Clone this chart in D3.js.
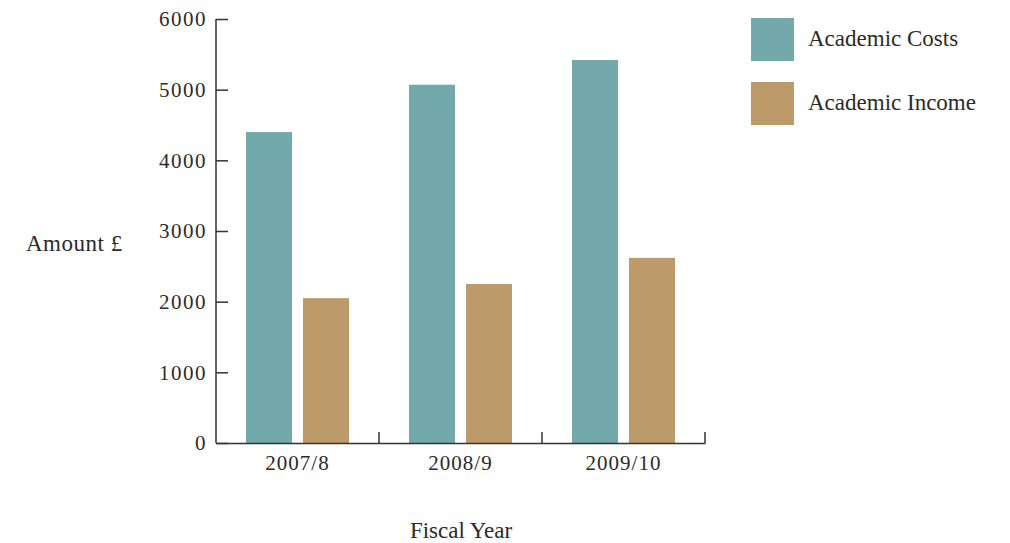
<!DOCTYPE html>
<html>
<head>
<meta charset="utf-8">
<script src="https://cdn.jsdelivr.net/npm/d3@7"></script>
<style>
  html, body { margin: 0; padding: 0; background: #fff; }
  svg { display: block; }
  text { font-family: "Liberation Serif", "DejaVu Serif", serif; fill: #2b2b2b; }
</style>
</head>
<body>
<svg id="chart" width="1010" height="543"></svg>
<script>
// Fiscal years and the two series plotted for each
const years = ["2007/8", "2008/9", "2009/10"];
const seriesNames = ["Academic Costs", "Academic Income"];
const academicCosts = [4400, 5070, 5420];
const academicIncome = [2050, 2250, 2620];
const yTicks = [0, 1000, 2000, 3000, 4000, 5000, 6000];
const colors = ["#73a9aa", "#bc9a69"];

const svg = d3.select("#chart");
const plot = { left: 216, right: 705, top: 19, bottom: 443 };

const x0 = d3.scaleBand().domain(years).range([plot.left, plot.right]).paddingInner(0).paddingOuter(0);
const x1 = d3.scaleBand().domain(seriesNames).range([30, x0.bandwidth() - 30]).paddingInner(11 / 57).paddingOuter(0);
const y = d3.scaleLinear().domain([0, 6000]).range([plot.bottom, plot.top]);

const rows = years.map((yr, i) => ({ year: yr, values: [academicCosts[i], academicIncome[i]] }));

// Bars
const groups = svg.append("g").selectAll("g").data(rows).join("g")
  .attr("transform", d => `translate(${x0(d.year)},0)`);
groups.selectAll("rect")
  .data(d => d.values.map((v, k) => ({ name: seriesNames[k], value: v, k })))
  .join("rect")
  .attr("x", d => x1(d.name))
  .attr("width", x1.bandwidth())
  .attr("y", d => y(d.value))
  .attr("height", d => y(0) - y(d.value))
  .attr("fill", d => colors[d.k]);

// Y axis: ticks pointing into the plot
const yAxis = d3.axisRight(y).tickValues(yTicks).tickSize(12).tickFormat(d3.format("d"));
const gy = svg.append("g").attr("transform", `translate(${plot.left},0)`).call(yAxis);
gy.select(".domain").attr("stroke", "#333").attr("stroke-width", 1.5).attr("d", `M0,${plot.top}V${plot.bottom}`);
gy.selectAll(".tick line").attr("stroke", "#333").attr("stroke-width", 1.5);
gy.selectAll(".tick text")
  .attr("x", -9).attr("dy", "0.32em")
  .attr("text-anchor", "end")
  .style("font-size", "21px").style("letter-spacing", "1.5px")
  .style("font-family", "'Liberation Serif', serif").attr("fill", "#2b2b2b");

// X axis: ticks at band edges pointing up
const xAxis = d3.axisBottom(x0).tickSize(0).tickSizeOuter(0);
const gx = svg.append("g").attr("transform", `translate(0,${plot.bottom})`).call(xAxis);
gx.select(".domain").attr("stroke", "#333").attr("stroke-width", 1.5);
gx.selectAll(".tick text")
  .attr("y", 27).attr("dy", 0)
  .style("font-size", "21px").style("letter-spacing", "1px")
  .style("font-family", "'Liberation Serif', serif").attr("fill", "#2b2b2b");
const edges = years.map(yr => x0(yr) + x0.bandwidth());
gx.selectAll(".edge").data(edges).join("line").attr("class", "edge")
  .attr("x1", d => d).attr("x2", d => d).attr("y1", 0).attr("y2", -11)
  .attr("stroke", "#333").attr("stroke-width", 1.5);

// Axis titles
svg.append("text").attr("x", 26).attr("y", 251).style("font-size", "23px").style("letter-spacing", "0.5px").text("Amount £");
svg.append("text").attr("x", 461).attr("y", 538).attr("text-anchor", "middle").style("font-size", "23px").text("Fiscal Year");

// Legend
const legend = svg.append("g").selectAll("g").data(seriesNames).join("g")
  .attr("transform", (d, i) => `translate(751,${18 + i * 64})`);
legend.append("rect").attr("width", 43).attr("height", 43).attr("fill", (d, i) => colors[i]);
legend.append("text").attr("x", 57).attr("y", 28).style("font-size", "23px").text(d => d);
</script>
</body>
</html>
